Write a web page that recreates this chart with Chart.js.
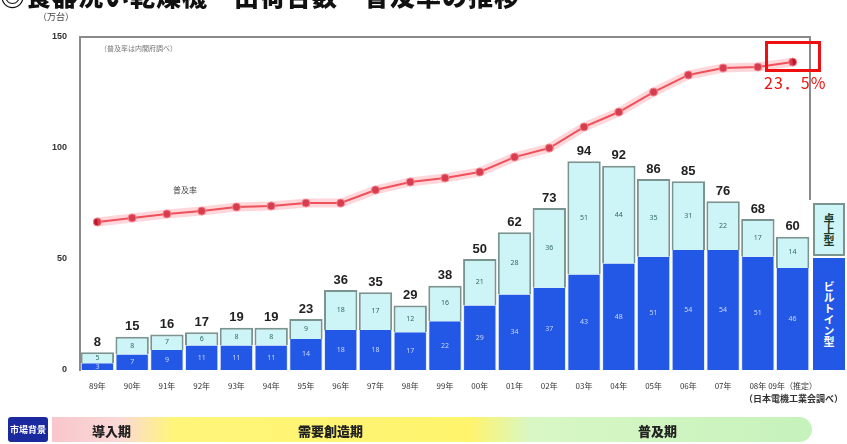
<!DOCTYPE html>
<html>
<head>
<meta charset="utf-8">
<script src="https://cdn.jsdelivr.net/npm/chart.js@4"></script>
<style>
  body { margin: 0; background: #fff; font-family: 'Noto Sans CJK JP', sans-serif; }
  #wrap { position: relative; width: 847px; height: 444px; overflow: hidden; }
  #chart { position: absolute; left: 0; top: 0; }
  .abs { position: absolute; white-space: nowrap; }
  #title { left: 0; top: -23px; font-size: 25px; font-weight: 900; color: #111; letter-spacing: 1px; }
  #unit { left: 38px; top: 10px; font-size: 9px; color: #444; }
  #note { left: 100px; top: 43px; font-size: 7px; color: #777; }
  #box { left: 765px; top: 41px; width: 50px; height: 25px; border: 3px solid #ee1010; }
  #pct { left: 764px; top: 70px; font-size: 16px; color: #ee1010; letter-spacing: 1px; }
  .leg { left: 813px; width: 32px; display: flex; align-items: center; justify-content: center; writing-mode: vertical-rl; font-weight: 700; font-size: 11px; box-sizing: border-box; }
  #legTop { top: 203px; height: 53px; background: #cdf4f6; border: 2px solid #7a9490; color: #1b3a2a; }
  #legBot { top: 258px; height: 112px; background: #2358e6; color: #fff; }
  #src { right: 4px; top: 392px; font-size: 9px; font-weight: 700; color: #333; }
  #band { left: 52px; top: 417px; width: 760px; height: 25px; border-radius: 0 14px 14px 0;
          background: linear-gradient(to right, #f8c6cc 0%, #fbd9d6 9%, #fff57a 16%, #fff46c 55%, #d8f7c4 63%, #c6f2bc 100%); }
  #mk { left: 8px; top: 417px; width: 40px; height: 25px; background: #1a2a9e; color: #fff; font-size: 9px; font-weight: 700;
        display: flex; align-items: center; justify-content: center; border-radius: 3px; }
  .ph { top: 421px; font-size: 13px; font-weight: 900; color: #222; }
</style>
</head>
<body>
<div id="wrap">
  <canvas id="chart" width="847" height="444"></canvas>
  <div class="abs" id="title">◎食器洗い乾燥機・出荷台数・普及率の推移</div>
  <div class="abs" id="unit">（万台）</div>
  <div class="abs" id="note">（普及率は内閣府調べ）</div>
  <div class="abs" id="box"></div>
  <div class="abs" id="pct">23．5%</div>
  <div class="abs leg" id="legTop">卓上型</div>
  <div class="abs leg" id="legBot">ビルトイン型</div>
  <div class="abs" id="src">（日本電機工業会調べ）</div>
  <div class="abs" id="band"></div>
  <div class="abs" id="mk">市場背景</div>
  <div class="abs ph" style="left:92px">導入期</div>
  <div class="abs ph" style="left:298px">需要創造期</div>
  <div class="abs ph" style="left:638px">普及期</div>
</div>
<script>
const years = ['89年', '90年', '91年', '92年', '93年', '94年', '95年', '96年', '97年', '98年', '99年',
               '00年', '01年', '02年', '03年', '04年', '05年', '06年', '07年', '08年', '09年（推定）'];
const builtIn = [3, 7, 9, 11, 11, 11, 14, 18, 18, 17, 22, 29, 34, 37, 43, 48, 51, 54, 54, 51, 46];
const tableTop = [5, 8, 7, 6, 8, 8, 9, 18, 17, 12, 16, 21, 28, 36, 51, 44, 35, 31, 22, 17, 14];
const totals = [8, 15, 16, 17, 19, 19, 23, 36, 35, 29, 38, 50, 62, 73, 94, 92, 86, 85, 76, 68, 60];
const penetration = [66.7, 68.5, 70.3, 71.6, 73.4, 73.9, 75.2, 75.2, 81.1, 84.7, 86.5, 89.2, 95.9, 100,
                     109.5, 116.2, 125.2, 132.9, 136, 136.5, 138.7];

const labelPlugin = {
    id: 'labels',
    afterDatasetsDraw(chart) {
        const ctx = chart.ctx;
        const metaB = chart.getDatasetMeta(2);
        const metaT = chart.getDatasetMeta(3);
        ctx.save();
        ctx.textAlign = 'center';
        ctx.textBaseline = 'middle';
        metaB.data.forEach((bar, i) => {
            const top = metaT.data[i];
            ctx.font = '7px "Noto Sans"';
            ctx.fillStyle = '#c9d8ff';
            ctx.fillText(builtIn[i], bar.x, (bar.y + bar.base) / 2);
            ctx.fillStyle = '#2f6b60';
            ctx.fillText(tableTop[i], top.x, (top.y + top.base) / 2);
            ctx.font = 'bold 13px "Liberation Sans"';
            ctx.fillStyle = '#222';
            ctx.fillText(totals[i], top.x, top.y - 10);
        });
        // frame lines
        const a = chart.chartArea;
        ctx.strokeStyle = '#8a8a8a';
        ctx.lineWidth = 2;
        ctx.beginPath();
        ctx.moveTo(a.left, a.top);
        ctx.lineTo(a.right, a.top);
        ctx.lineTo(a.right, 200);
        ctx.stroke();
        // line caption
        ctx.font = '8px "Noto Sans CJK JP"';
        ctx.fillStyle = '#444';
        ctx.fillText('普及率', 185, 190);
        ctx.restore();
    }
};

new Chart(document.getElementById('chart'), {
    data: {
        labels: years,
        datasets: [
            {
                type: 'line',
                data: penetration,
                stack: 'halo',
                borderColor: 'rgba(255, 140, 150, 0.35)',
                borderWidth: 9,
                pointRadius: 0,
                order: 0
            },
            {
                type: 'line',
                data: penetration,
                stack: 'line',
                borderColor: '#e8303a',
                borderWidth: 2,
                pointRadius: 4,
                pointBackgroundColor: '#c0142a',
                pointBorderColor: '#f27a86',
                pointBorderWidth: 1,
                order: 0
            },
            {
                type: 'bar',
                data: builtIn,
                backgroundColor: '#2358e6',
                borderColor: '#dbe8ff',
                borderWidth: { left: 1, right: 1 },
                barPercentage: 0.96,
                categoryPercentage: 1,
                stack: 's',
                order: 1
            },
            {
                type: 'bar',
                data: tableTop,
                backgroundColor: '#cdf4f6',
                borderColor: '#7a9490',
                borderWidth: 2,
                barPercentage: 0.96,
                categoryPercentage: 1,
                stack: 's',
                order: 1
            }
        ]
    },
    options: {
        responsive: false,
        animation: false,
        layout: { padding: { left: 0, top: 37, right: 37, bottom: 0 } },
        plugins: { legend: { display: false }, tooltip: { enabled: false } },
        scales: {
            x: {
                stacked: true,
                grid: { display: false, drawTicks: false },
                border: { display: false },
                ticks: { color: '#333', font: { size: 8, family: 'Noto Sans CJK JP' }, padding: 11, maxRotation: 0, autoSkip: false },
                afterFit(s) { s.height = 74; }
            },
            y: {
                stacked: true,
                min: 0,
                max: 150,
                grid: { display: false, drawTicks: false },
                border: { display: true, color: '#8a8a8a', width: 2 },
                ticks: { stepSize: 50, color: '#333', font: { size: 9, weight: 'bold', family: 'Liberation Sans' }, padding: 13 },
                afterFit(s) { s.width = 80; }
            }
        }
    },
    plugins: [labelPlugin]
});
</script>
</body>
</html>
